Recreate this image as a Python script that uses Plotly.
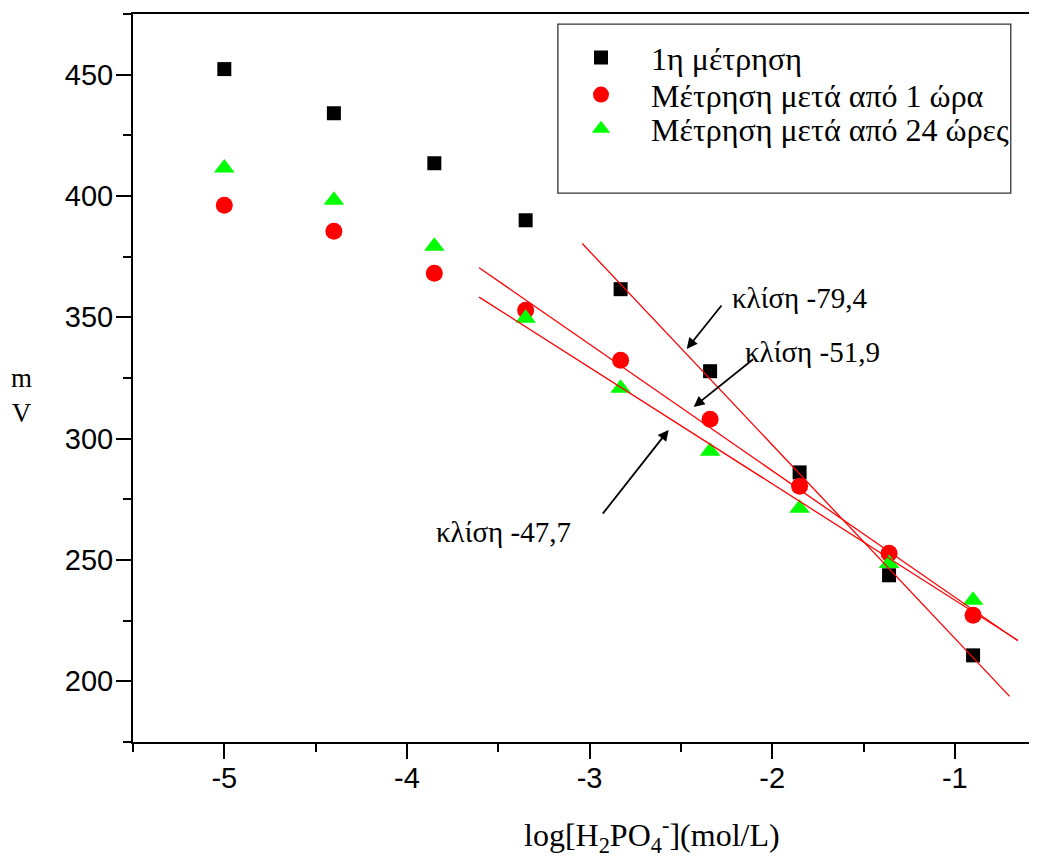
import numpy as np
import plotly.graph_objects as go

# ---------------- data ----------------
log_conc = [-5.0, -4.4, -3.85, -3.35, -2.83, -2.34, -1.85, -1.36, -0.9]
mv_first = [452.3, 434.1, 413.5, 390.0, 361.6, 327.8, 286.1, 243.7, 210.7]
mv_1h = [396.2, 385.5, 368.2, 352.9, 332.3, 308.0, 280.4, 252.8, 227.2]
mv_24h = [411.5, 398.3, 379.3, 349.6, 320.8, 294.8, 271.3, 248.6, 233.4]

series_names = ["1η μέτρηση", "Μέτρηση μετά από 1 ώρα", "Μέτρηση μετά από 24 ώρες"]
fit_start_index = [4, 3, 3]          # first point used in each linear fit
fit_x_range = [[-3.04, -0.70], [-3.605, -0.655], [-3.605, -0.655]]
slope_labels = ["κλίση -79,4", "κλίση -51,9", "κλίση -47,7"]

x_ticks = [-5, -4, -3, -2, -1]
y_ticks = [200, 250, 300, 350, 400, 450]

# ---------------- styles ----------------
serif = "Liberation Serif, Times New Roman, serif"
sans = "Liberation Sans, Arial, sans-serif"
colors = ["#000000", "#ff0000", "#00ff00"]
symbols = ["square", "circle", "triangle-up"]
sizes = [14, 17, 18]
legend_ids = ["legend", "legend2", "legend3"]
legend_y = [0.940, 0.889, 0.842]

fig = go.Figure()
all_series = [mv_first, mv_1h, mv_24h]

for i, ys in enumerate(all_series):
    fig.add_trace(go.Scatter(
        x=log_conc, y=ys, mode="markers", name=series_names[i],
        marker=dict(symbol=symbols[i], size=sizes[i], color=colors[i], line=dict(width=0)),
        legend=legend_ids[i], showlegend=True,
    ))

# linear fits through the linear region
for i, ys in enumerate(all_series):
    s = fit_start_index[i]
    m, b = np.polyfit(log_conc[s:], ys[s:], 1)
    xr = np.array(fit_x_range[i])
    fig.add_trace(go.Scatter(
        x=xr, y=m * xr + b, mode="lines",
        line=dict(color="#ff0000", width=1.3), showlegend=False, hoverinfo="skip",
    ))

axis_common = dict(
    showgrid=False, zeroline=False, showline=True, linecolor="black", linewidth=2,
    ticks="outside", ticklen=15, tickwidth=2, tickcolor="black",
    tickfont=dict(family=sans, size=29, color="black"),
)

fig.update_xaxes(
    range=[-5.5, -0.55], tickvals=x_ticks, ticktext=[str(v) for v in x_ticks],
    mirror=True, ticklabelstandoff=-6,
    minor=dict(ticks="outside", ticklen=8, tickwidth=2, tickcolor="black", dtick=0.5, tick0=-5.5),
    **axis_common,
)
fig.update_yaxes(
    range=[175, 475], tickvals=y_ticks, ticktext=[str(v) for v in y_ticks],
    mirror=False, ticklabelstandoff=-3,
    minor=dict(ticks="outside", ticklen=8, tickwidth=2, tickcolor="black", dtick=25, tick0=175),
    **axis_common,
)

legends = {}
for i, lid in enumerate(legend_ids):
    legends[lid] = dict(
        x=0.4624, y=legend_y[i], xanchor="left", yanchor="middle",
        bgcolor="rgba(0,0,0,0)", borderwidth=0, itemwidth=90,
        font=dict(family=serif, size=32, color="black"),
        itemclick=False, itemdoubleclick=False,
    )

annotations = [
    # axis titles
    dict(text="log[H<sub>2</sub>PO<sub>4</sub><sup>-</sup>](mol/L)", xref="paper", yref="paper",
         x=0.574, y=-0.128, showarrow=False, font=dict(family=serif, size=32, color="black"),
         xanchor="center", yanchor="middle"),
    dict(text="m<br>V", xref="paper", yref="paper", x=-0.1228, y=0.4766, showarrow=False,
         font=dict(family=serif, size=27, color="black"), xanchor="center", yanchor="middle"),
    # slope labels
    dict(text=slope_labels[0], x=-1.849, y=358.0, xref="x", yref="y", showarrow=False,
         font=dict(family=serif, size=29, color="black")),
    dict(text=slope_labels[1], x=-1.778, y=335.7, xref="x", yref="y", showarrow=False,
         font=dict(family=serif, size=29, color="black")),
    dict(text=slope_labels[2], x=-3.47, y=261.5, xref="x", yref="y", showarrow=False,
         font=dict(family=serif, size=29, color="black")),
]
arrows = [
    ((-2.468, 337.0), (-2.271, 355.5)),
    ((-2.430, 313.1), (-2.096, 333.2)),
    ((-2.567, 303.6), (-2.934, 268.5)),
]
for (hx, hy), (tx, ty) in arrows:
    annotations.append(dict(
        text="", x=hx, y=hy, ax=tx, ay=ty, xref="x", yref="y", axref="x", ayref="y",
        showarrow=True, arrowhead=2, arrowsize=1.2, arrowwidth=1.8, arrowcolor="black", standoff=0,
    ))

# the page body adds an 8 px offset, so the figure is 8 px smaller and shifted
fig.update_layout(
    width=1029, height=849,
    margin=dict(l=125, r=0, t=6, b=115),
    plot_bgcolor="white", paper_bgcolor="white",
    annotations=annotations,
    shapes=[dict(type="rect", xref="paper", yref="paper", x0=0.470, x1=0.971, y0=0.754, y1=0.986,
                 line=dict(color="#333333", width=1.3), fillcolor="rgba(0,0,0,0)")],
    **legends,
)

fig.write_html("out.html")
